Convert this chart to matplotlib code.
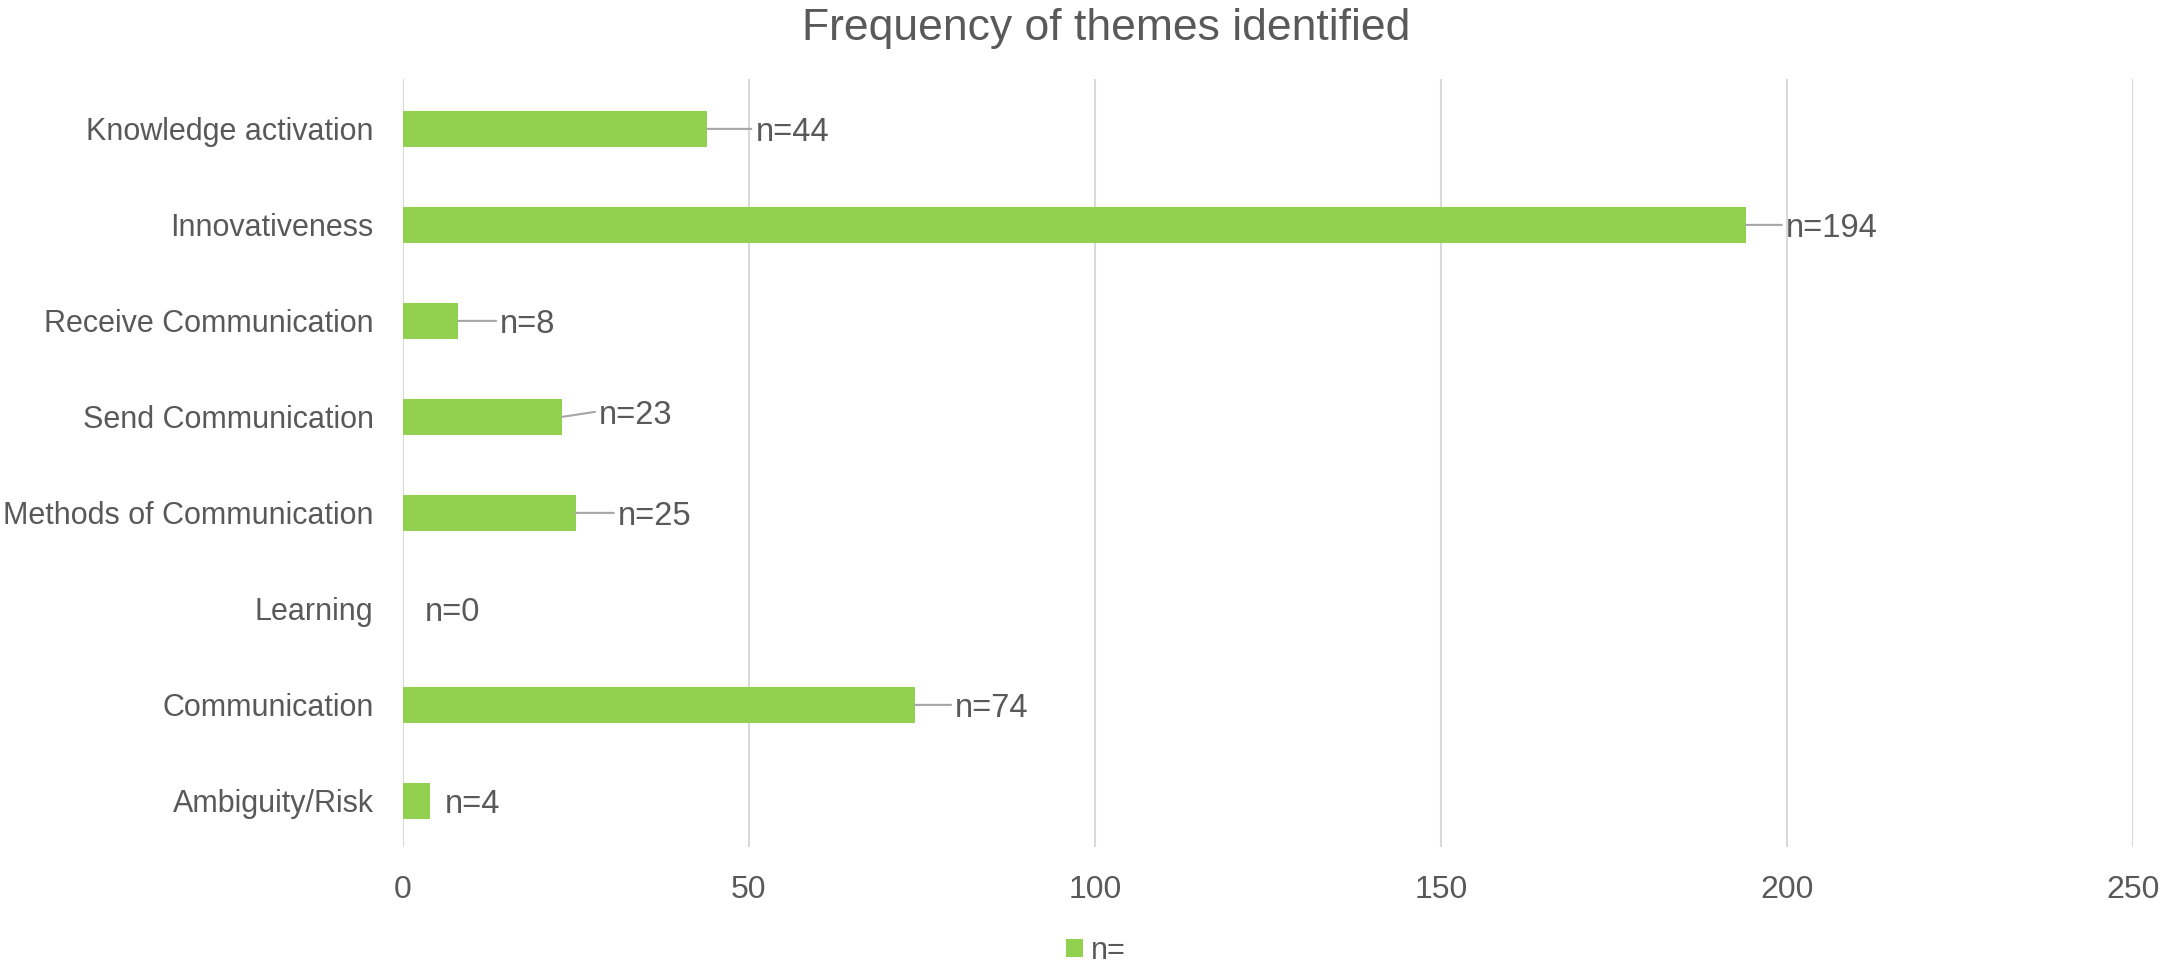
import matplotlib
matplotlib.use("Agg")
from matplotlib import pyplot as plt

plt.rcParams['font.family'] = ['Liberation Sans', 'DejaVu Sans']

# theme counts, listed top to bottom as drawn
themes = ["Knowledge activation", "Innovativeness", "Receive Communication",
          "Send Communication", "Methods of Communication", "Learning",
          "Communication", "Ambiguity/Risk"]
counts = [44, 194, 8, 23, 25, 0, 74, 4]
labels = ["n=" + str(c) for c in counts]
x_ticks = [0, 50, 100, 150, 200, 250]

green = "#92D050"
text_grey = "#595959"
grid_grey = "#D9D9D9"

# label offsets in pixels from the end of each bar, and whether a leader line is drawn
label_dx = [48, 40, 42, 37, 42, 22, 40, 14]
label_dy = [0, 0, 0, 5, 0, 0, 0, 0]
leader = [True, True, True, True, True, False, True, False]

fig = plt.figure(figsize=(21.77, 9.63), dpi=100)
ax = fig.add_axes([0.185, 0.1205, 0.795, 0.7975])

y_pos = list(range(len(themes)))
ax.barh(y_pos, counts, height=0.37, color=green, label="n=", zorder=3)

for y, c, lab, dx, dy, ln in zip(y_pos, counts, labels, label_dx, label_dy, leader):
    ax.annotate(lab, xy=(c, y), xytext=(dx, dy), textcoords='offset pixels',
                ha='left', va='center_baseline', fontsize=23.5, color=text_grey,
                zorder=4)
    if ln:
        # leader line from the bar end up to the label
        ax.annotate("", xy=(c, y), xytext=(dx - 4, dy), textcoords='offset pixels',
                    arrowprops=dict(arrowstyle='-', color="#A6A6A6", lw=1.5,
                                    shrinkA=0, shrinkB=0), zorder=4)

ax.set_yticks(y_pos)
ax.set_yticklabels(themes)
ax.set_ylim(-0.52, 7.48)
ax.invert_yaxis()

ax.set_xlim(0, 250)
ax.set_xticks(x_ticks)
ax.tick_params(axis='y', length=0, labelsize=22, colors=text_grey, pad=21)
ax.tick_params(axis='x', length=0, labelsize=23, colors=text_grey, pad=20)

ax.grid(axis='x', color=grid_grey, lw=1.5, zorder=0)
for s in ax.spines.values():
    s.set_visible(False)

fig.suptitle("Frequency of themes identified", x=0.508, y=0.992, va='top',
             fontsize=32, color=text_grey)

fig.legend(loc='center', bbox_to_anchor=(1096 / 2177, 1 - 951 / 963), frameon=False,
           fontsize=22, labelcolor=text_grey, handlelength=0.55, handleheight=0.55,
           handletextpad=0.25)

fig.savefig("out.png", dpi=100, facecolor="white")
